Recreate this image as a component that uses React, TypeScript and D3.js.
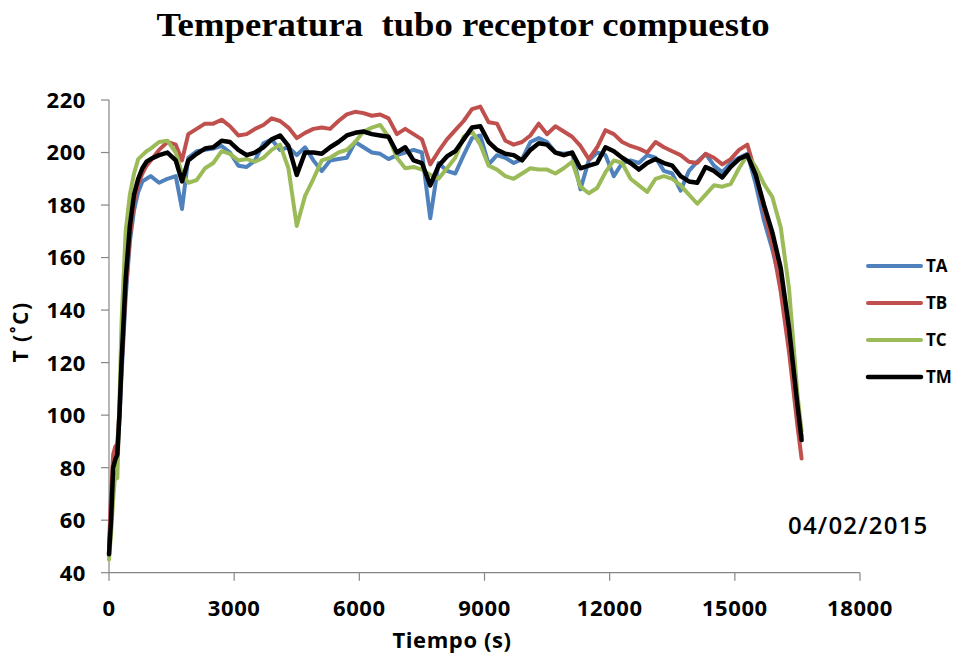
import React from "react";
import * as d3 from "d3";

const times = [
  0, 50, 100, 150, 200, 250, 300, 400, 500, 600, 700, 800, 900, 1000, 1200, 1400, 1600, 1750,
  1900, 2100, 2300, 2500, 2700, 2900, 3100, 3300, 3500, 3700, 3900, 4100, 4300, 4500, 4700, 4900,
  5100, 5300, 5500, 5700, 5900, 6100, 6300, 6500, 6700, 6900, 7100, 7300, 7500, 7700, 7900, 8100,
  8300, 8500, 8700, 8900, 9100, 9300, 9500, 9700, 9900, 10100, 10300, 10500, 10700, 10900, 11100,
  11300, 11500, 11700, 11900, 12100, 12300, 12500, 12700, 12900, 13100, 13300, 13500, 13700, 13900,
  14100, 14300, 14500, 14700, 14900, 15100, 15300, 15500, 15700, 15900, 16100, 16300, 16500, 16600,
];

const TA = [
  50, 62, 80, 84, 86, 98, 115, 145, 166, 178, 185, 189, 190, 191, 188.5, 190, 191, 178.5,
  198, 200.5, 201, 201.5, 202.5, 200, 195, 194.5, 197, 203.5, 205, 201, 202, 199, 202, 197,
  193, 197, 197.5, 198, 204, 202, 200, 199.5, 197.5, 199, 200, 201, 200, 175, 196, 193,
  192, 199, 205.5, 206.5, 195.5, 199, 198, 196, 197.5, 204, 205.5, 204, 200, 199.5, 200,
  186, 197, 200, 199, 191, 196, 197, 196, 199, 198, 193, 192, 185.5, 193,
  196.5, 199.5, 195, 192.5, 196, 198, 199.5, 188, 174, 163, 150, 128, 103, 92,
];

const TB = [
  50, 70, 85, 88, 89, 102, 118, 148, 168, 181, 188, 192, 195, 197, 201, 204, 203, 197,
  207, 209, 211, 211, 212.5, 210, 206.5, 207, 209, 210.5, 213, 212, 209.5, 205.5, 207.5, 209,
  209.5, 209, 212, 214.5, 215.5, 215, 214, 214.5, 213, 207, 209, 207, 205, 195.5, 200.5, 205,
  208.5, 212, 216.5, 217.5, 211.5, 211, 204.5, 203, 204, 206.5, 211, 207, 210, 208, 206,
  202.5, 197.5, 202, 208.5, 207, 204, 202.5, 201.5, 200, 204, 202, 200.5, 199, 196.5,
  196, 199.5, 198, 195.5, 197.5, 201, 203, 192, 178, 165, 147, 124, 96, 83.5,
];

const TC = [
  45, 55, 68, 78, 76, 105, 135, 170, 184, 192, 197.5, 199, 200.5, 201.5, 204, 204.5, 200, 192,
  188.5, 189.5, 194, 196, 200.5, 199.5, 197, 197.5, 196.5, 198, 201, 203, 194, 172, 183.5, 190,
  197, 198, 200, 201, 204, 208, 209.5, 210.5, 206, 198, 194, 194.5, 193.5, 191.5, 190, 194,
  198, 206, 208, 203, 195, 193.5, 191, 190, 192, 194, 193.5, 193.5, 192, 194, 196.5,
  187, 184.5, 186.5, 192.5, 197, 196, 190, 187.5, 185, 190, 191, 190, 187.5, 184,
  180.5, 184, 187.5, 187, 188, 194, 199, 194.5, 188, 183, 171.5, 148, 108, 94,
];

const TM = [
  47, 60, 80, 83, 85, 100, 120, 152, 172, 184, 190, 194, 196.5, 197.5, 199, 200, 197, 189,
  197, 199.5, 201.5, 202, 204.5, 204, 201, 199, 200, 202, 205, 206.5, 202.5, 191.5, 200, 200,
  199.5, 202, 204, 206.5, 207.5, 208, 207, 206.5, 206, 200, 202, 197, 196, 187.5, 195, 198.5,
  200.5, 205, 209.5, 210, 204, 201, 199.5, 199, 197, 201, 203.5, 203, 200, 199, 200,
  194, 195, 196, 202, 200.5, 198, 196, 193.5, 196, 197.5, 196, 195, 191, 189,
  188.5, 194.5, 193, 190.5, 194.5, 197.5, 199, 191.5, 180, 169.5, 156, 133, 104, 90.5,
];

const seriesNames = ["TA", "TB", "TC", "TM"];
const seriesValues = [TA, TB, TC, TM];
const seriesColors = ["#4F81BD", "#C0504D", "#9BBB59", "#000000"];
const seriesWidths = [4, 4, 4, 4.5];

const xTicks = [0, 3000, 6000, 9000, 12000, 15000, 18000];
const yTicks = [40, 60, 80, 100, 120, 140, 160, 180, 200, 220];

const titleText = "Temperatura  tubo receptor compuesto";
const xLabel = "Tiempo (s)";
const yLabel = "T (˚C)";
const dateText = "04/02/2015";

export default function App() {
  const x = d3.scaleLinear().domain([0, 18000]).range([109, 860]);
  const y = d3.scaleLinear().domain([40, 220]).range([572.7, 100]);
  const axisColor = "#868686";
  const sans = "'Open Sans', 'Liberation Sans', Arial, sans-serif";

  const lines = seriesValues.map((vals) =>
    d3
      .line<number>()
      .x((_, i) => x(times[i]))
      .y((v) => y(v))(vals) as string
  );

  return (
    <div style={{ position: "absolute", left: 0, top: 0 }}>
      <svg width={961} height={660} style={{ display: "block", background: "#fff" }}>
        <text
          x={463}
          y={36}
          textAnchor="middle"
          fontFamily="'Liberation Serif', 'Times New Roman', serif"
          fontWeight="bold"
          fontSize={33}
          textLength={613}
          lengthAdjust="spacingAndGlyphs"
          style={{ whiteSpace: "pre" }}
        >
          {titleText}
        </text>

        {/* axes */}
        <line x1={x(0)} x2={x(0)} y1={y(220)} y2={y(40)} stroke={axisColor} strokeWidth={1.2} />
        <line x1={x(0)} x2={x(18000)} y1={y(40)} y2={y(40)} stroke={axisColor} strokeWidth={1.2} />
        {yTicks.map((t) => (
          <g key={"y" + t}>
            <line x1={x(0) - 8} x2={x(0)} y1={y(t)} y2={y(t)} stroke={axisColor} strokeWidth={1.2} />
            <text
              x={86}
              y={y(t)}
              dy="0.36em"
              textAnchor="end"
              fontFamily={sans}
              fontWeight="bold"
              fontSize={22}
              letterSpacing={0.6}
            >
              {t}
            </text>
          </g>
        ))}
        {xTicks.map((t) => (
          <g key={"x" + t}>
            <line x1={x(t)} x2={x(t)} y1={y(40)} y2={y(40) + 8} stroke={axisColor} strokeWidth={1.2} />
            <text
              x={x(t)}
              y={616}
              textAnchor="middle"
              fontFamily={sans}
              fontWeight="bold"
              fontSize={22}
              letterSpacing={0.6}
            >
              {t}
            </text>
          </g>
        ))}

        <text x={452} y={648} textAnchor="middle" fontFamily={sans} fontWeight="bold" fontSize={22} letterSpacing={0.6}>
          {xLabel}
        </text>
        <text
          transform="translate(28,332) rotate(-90)"
          textAnchor="middle"
          fontFamily={sans}
          fontWeight="bold"
          fontSize={21}
          letterSpacing={1.5}
        >
          {yLabel}
        </text>

        {/* series */}
        {lines.map((d, i) => (
          <path
            key={seriesNames[i]}
            d={d}
            fill="none"
            stroke={seriesColors[i]}
            strokeWidth={seriesWidths[i]}
            strokeLinejoin="round"
            strokeLinecap="round"
          />
        ))}

        {/* legend */}
        {seriesNames.map((n, i) => (
          <g key={"lg" + n}>
            <line
              x1={868}
              x2={921}
              y1={266 + i * 37}
              y2={266 + i * 37}
              stroke={seriesColors[i]}
              strokeWidth={seriesWidths[i]}
              strokeLinecap="round"
            />
            <text
              x={926}
              y={266 + i * 37}
              dy="0.36em"
              fontFamily={sans}
              fontWeight="bold"
              fontSize={17}
            >
              {n}
            </text>
          </g>
        ))}

        <text x={788} y={534} fontFamily="'Open Sans', sans-serif" fontWeight={600} fontSize={24} letterSpacing={1.2}>
          {dateText}
        </text>
      </svg>
    </div>
  );
}
